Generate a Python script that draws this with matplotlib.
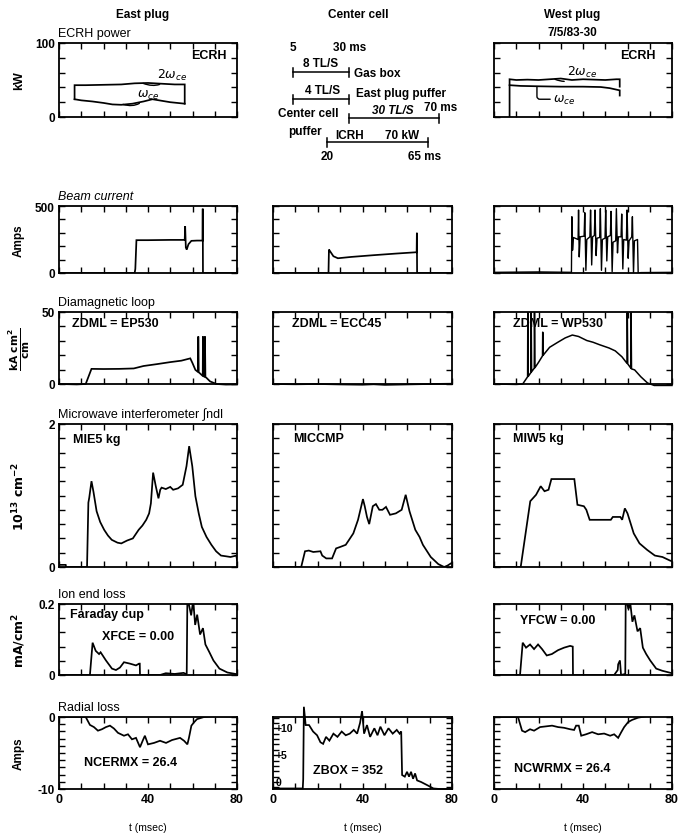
import numpy as np
import matplotlib
matplotlib.use('Agg')
import matplotlib.pyplot as plt

plt.rcParams['font.family'] = ['Liberation Sans', 'DejaVu Sans']
plt.rcParams['font.size'] = 8
plt.rcParams['axes.unicode_minus'] = False

W, H = 679, 837

# ---------------- data (t in ms) ----------------
# ECRH power, kW
ecrh_e_2w_t = [7, 7, 12, 20, 28, 34, 40, 46, 52, 56.5, 56.5]
ecrh_e_2w_v = [24, 43, 43, 43.5, 44, 45.5, 46, 45, 44, 44, 18]
ecrh_e_1w_t = [7, 10, 15, 20, 24, 28, 33, 38, 42, 46, 50, 56.5]
ecrh_e_1w_v = [24, 22.5, 21, 19, 17, 16.5, 18, 21, 24, 22, 20, 18]
ecrh_w_2w_t = [7, 7, 10, 15, 20, 25, 30, 35, 40, 45, 50, 55, 56.5, 56.5]
ecrh_w_2w_v = [0, 51, 50, 50.5, 50, 51, 52, 50, 51, 50.5, 50, 51, 51, 41]
ecrh_w_1w_t = [7, 12, 20, 30, 40, 48, 52, 55, 56.5, 56.5]
ecrh_w_1w_v = [43, 42, 41.5, 41, 41, 40.5, 39, 37, 36, 29]

# center cell timing
flow_start = [5, 5, 30, 20]
flow_end = [30, 30, 70, 65]

# beam current, A
beam_e_t = [0, 34, 34.3, 34.8, 40, 50, 56.5, 56.7, 57.0, 57.4, 58.2, 59.5, 62, 64.5, 64.6, 64.7, 66, 80]
beam_e_v = [0, 0, 30, 245, 245, 247, 247, 350, 190, 175, 215, 240, 242, 242, 480, 0, 0, 0]
beam_c_t = [0, 24.8, 25.0, 25.6, 27, 29, 35, 45, 55, 64.2, 64.3, 64.4, 66, 80]
beam_c_v = [0, 0, 175, 160, 125, 110, 120, 133, 145, 155, 300, 0, 0, 0]
beam_w_t = [0, 20, 34.8,
            35.0, 35.3, 35.7, 37.8,
            38.0, 38.3, 38.7, 40.5,
            40.8, 41.3, 41.7, 43.1,
            43.4, 43.9, 44.3, 45.1,
            45.4, 45.9, 46.3, 47.5,
            47.8, 48.3, 48.7, 49.9,
            50.2, 50.7, 51.1, 52.3,
            52.6, 53.1, 53.5, 54.7,
            55.0, 55.5, 55.9, 57.1,
            57.4, 57.9, 58.3, 59.5,
            59.8, 60.3, 60.7, 61.9,
            62.2, 62.7, 63.1, 64.5,
            64.8, 66, 80]
beam_w_v = [5, 8, 5,
            420, 170, 265, 250,
            470, 120, 270, 275,
            450, 20, 250, 270,
            470, 60, 270, 280,
            470, 130, 260, 265,
            480, 20, 250, 260,
            470, 90, 270, 280,
            460, 10, 230, 240,
            480, 150, 270, 270,
            440, 30, 250, 245,
            470, 110, 240, 270,
            420, 0, 240, 250,
            0, 3, 5]

# diamagnetic loop
dml_e_t = [0, 8, 12, 14.6, 20, 27, 33.6, 38, 44, 50, 55, 59, 60, 61.3, 62.5, 62.6, 62.8, 63.2, 64.6,
           64.7, 64.9, 65.5, 65.6, 65.8, 66.2, 67.9, 70.8, 75, 80]
dml_e_v = [0, -0.3, 0, 10.5, 10.4, 10.5, 10.8, 12.5, 13.8, 15.2, 16.2, 17.8, 14.5, 9.8, 8.3, 33, 8.1, 7.6, 5.6,
           33, 5.4, 5.0, 33, 4.8, 4.4, 1.8, 0, -0.4, -0.3]
dml_c_t = [0, 10, 20, 30, 40, 45, 50, 60, 70, 80]
dml_c_v = [0, -0.2, 0, -0.3, -0.5, -0.2, -0.6, -0.3, 0, 0.2]
dml_w_t = [0, 10, 12.9, 15.1, 15.2, 15.4, 16.6, 16.7, 16.9, 18.1, 18.2, 18.4, 20, 21.8, 21.9, 22.1,
           25, 28.7, 32, 35.2, 38, 41.7, 44.5, 47.4, 51.7, 54.5, 57.5, 59.8, 59.9, 60.1, 61.5, 61.6, 61.8,
           63.2, 66, 69, 72, 80]
dml_w_v = [0, -0.3, 0, 5, 49.5, 5.3, 8, 49.5, 8.5, 11, 49.5, 11.3, 15, 19.5, 36, 20,
           25.5, 29, 32, 34, 33, 30.2, 29, 27.3, 25, 23, 18.9, 14.3, 49.5, 14, 11, 49.5, 10.5,
           9.8, 5, 0.7, -1, -1]

# microwave interferometer, 1e13 cm^-2
mi_e_t = [0, 3, 3.2, 12.6, 13.2, 13.6, 14.6, 15.5, 16.9, 18.5, 20.3, 22, 23.7, 26.3, 28, 30.6, 33.2,
          35.8, 37.5, 39.2, 40.5, 41.3, 42.3, 43.5, 44.7, 45.5, 46.1, 48, 50, 51.3, 53.5, 55.6, 57.3,
          58.5, 59.9, 61.3, 62.8, 64.2, 66.3, 68.5, 70.6, 72.8, 75, 77.1, 79.7, 80]
mi_e_v = [0.03, 0.03, 0, 0, 0.9, 0.97, 1.2, 1.05, 0.78, 0.63, 0.52, 0.44, 0.38, 0.34, 0.33, 0.37, 0.40,
          0.52, 0.58, 0.66, 0.75, 0.89, 1.32, 1.13, 0.96, 1.08, 1.11, 1.09, 1.12, 1.08, 1.1, 1.15, 1.41,
          1.69, 1.41, 0.99, 0.75, 0.56, 0.42, 0.31, 0.22, 0.16, 0.15, 0.14, 0.16, 0.1]
mi_c_t = [0, 12.6, 14.3, 16, 18, 21.2, 22, 23.8, 26.4, 28.2, 30, 32.5, 34, 35.9, 38, 40.2, 41, 42, 43,
          44.6, 46, 47.5, 48.9, 50.5, 52.3, 54.9, 57.5, 59.3, 61, 63.6, 65.5, 67, 70.5, 73.9, 76.5, 78, 80]
mi_c_v = [0, 0, 0.22, 0.23, 0.21, 0.22, 0.16, 0.12, 0.12, 0.26, 0.28, 0.31, 0.38, 0.47, 0.66, 0.95, 0.85,
          0.7, 0.6, 0.85, 0.88, 0.8, 0.8, 0.84, 0.73, 0.75, 0.8, 1.01, 0.78, 0.52, 0.42, 0.31, 0.14, 0.04,
          0, 0.02, 0.06]
mi_w_t = [0, 12, 16.3, 18.9, 21, 22.7, 24.5, 25.8, 30, 36.1, 37.5, 40.4, 41.5, 43, 47, 52.5, 53.4, 56.8,
          57.6, 58.8, 60, 62.8, 65.4, 68.8, 72.3, 75.7, 79.1, 80]
mi_w_v = [0, 0, 0.92, 1.01, 1.13, 1.06, 1.08, 1.23, 1.23, 1.23, 0.87, 0.85, 0.8, 0.66, 0.66, 0.66, 0.7, 0.7,
          0.66, 0.82, 0.75, 0.47, 0.33, 0.24, 0.16, 0.14, 0.09, 0.08]

# Faraday cup, mA/cm^2
fc_e_t = [0, 13.9, 15.1, 16.5, 18, 18.7, 21.1, 23.8, 25.6, 27.4, 29.2, 31.9, 34.6, 36.0, 36.3, 36.4,
          45.4, 48, 52, 56, 57.4, 57.7, 58.5, 59.4, 60.3, 61.2, 62.1, 63.4, 64.7, 65.8, 67.6, 69.4,
          72.1, 75.7, 79.3, 80]
fc_e_v = [0, 0, 0.091, 0.068, 0.059, 0.064, 0.041, 0.018, 0.014, 0.021, 0.036, 0.032, 0.027, 0.032, 0.032, 0,
          0, 0.005, 0.003, 0.006, 0.002, 0.22, 0.195, 0.168, 0.21, 0.141, 0.17, 0.114, 0.132, 0.086, 0.064,
          0.041, 0.018, 0.007, 0.003, 0.002]
fc_w_t = [0, 11.7, 12.9, 14.4, 16.2, 18, 19.8, 21.6, 23.7, 26, 28.8, 31.5, 34.2, 35.4, 35.5, 54, 55.6,
          55.8, 56.6, 57.1, 59.0, 59.2, 60.4, 61.3, 62.2, 63.1, 64.5, 65.7, 66.9, 68.4, 70.2, 72.9, 75.6, 80]
fc_w_v = [0, 0, 0.091, 0.077, 0.086, 0.073, 0.086, 0.073, 0.055, 0.059, 0.07, 0.077, 0.082, 0.08, 0, 0, 0.014,
          0.03, 0.041, 0, 0.003, 0.22, 0.186, 0.2, 0.15, 0.168, 0.123, 0.132, 0.077, 0.059, 0.041, 0.018,
          0.012, 0.005]

# radial loss, A
rl_e_t = [0, 12, 13.9, 15.7, 17.5, 19.3, 21.1, 22.9, 24.7, 26.5, 29.2, 31, 32.8, 34.6, 36.4, 37.6, 38.6,
          40, 42.7, 45.4, 48.1, 50.8, 54.4, 56.2, 57.7, 58.4, 59.5, 60.8, 62, 65.2, 68.8, 80]
rl_e_v = [0, 0, -1.1, -1.4, -1.9, -1.7, -1.4, -1.2, -1.6, -2.2, -2.6, -2.4, -3.1, -2.9, -4.2, -3.3, -2.6,
          -3.8, -3.6, -3.3, -3.6, -3.2, -2.9, -3.3, -3.8, -2.9, -1.2, -0.7, -0.3, 0, 0.1, 0.05]
rl_c_t = [0, 13.3, 13.5, 13.8, 14.6, 16.1, 17.9, 19.7, 21.2, 22.4, 23.7, 25.2, 27, 28.8, 30.7, 32.5,
          34.3, 36.1, 37.6, 38.9, 39.8, 40.7, 42, 43.4, 45.3, 46.7, 48, 49.8, 51.6, 53.5, 55.3, 56.6,
          57.3, 57.7, 58.9, 59.9, 60.8, 61.7, 62.6, 63.5, 64.4, 66.2, 69, 71.7, 74.5, 80]
rl_c_v = [-1.2, -1.2, 0.5, 14, 10.6, 10.6, 9.4, 8.7, 7.4, 7.1, 8.4, 7.7, 9, 8.4, 9.4, 8.7,
          9, 9.7, 9, 11, 13.2, 9, 10.6, 8.4, 10, 8.7, 10.3, 8.7, 10, 9, 9.7, 9,
          9.4, 1.3, 1, 1.9, 1, 1.9, 0.6, 1.6, 0.3, 0, -0.6, -1.2, -1.3, -1.3]
rl_w_t = [0, 10.8, 12.6, 14, 16.2, 18, 20.7, 23.4, 26.1, 28.8, 31.5, 34.2, 36, 36.9, 38.1, 39.2, 41.4,
          44.1, 46.8, 49.5, 52.2, 54, 55.8, 57.2, 58.5, 60.3, 62.1, 64.7, 68.3, 80]
rl_w_v = [0, 0, -1.9, -2.1, -1.7, -1.9, -1.4, -1.3, -1.2, -1.4, -1.5, -1.7, -1.8, -1.2, -1.2, -2.6, -2.4,
          -2.1, -2.4, -2.3, -2.6, -2.4, -2.9, -2.1, -1.4, -0.7, -0.4, -0.1, 0.1, 0.2]

# ---------------- layout (pixels) ----------------
col_px = [(59, 237), (273, 452), (494, 672)]
row_px = [(44, 118), (207, 274), (313, 385), (425, 568), (605, 676), (718, 790)]
row_ylim = [(0, 100), (0, 500), (0, 50), (0, 2), (0, 0.2), (-10, 0)]
row_yticks = [np.arange(0, 101, 20), np.arange(0, 501, 100), np.arange(0, 51, 10),
              np.arange(0, 2.01, 0.2), np.arange(0, 0.201, 0.04), np.arange(-10, 0.1, 1)]
row_ylabels = [('0', '100'), ('0', '500'), ('0', '50'), ('0', '2'), ('0', '0.2'), ('-10', '0')]

LW = 1.25
fig = plt.figure(figsize=(W / 100, H / 100), dpi=100)


def ftext(x, y, s, **kw):
    fig.text(x / W, 1 - y / H, s, **kw)


def panel(col, row):
    x0, x1 = col_px[col]
    y0, y1 = row_px[row]
    ax = fig.add_axes([x0 / W, 1 - y1 / H, (x1 - x0) / W, (y1 - y0) / H])
    ax.set_xlim(0, 80)
    ax.set_ylim(*row_ylim[row])
    ax.set_xticks(range(0, 81, 10))
    if row == 5:
        ax.set_xticklabels(['0', '', '', '', '40', '', '', '', '80'], fontweight='bold', fontsize=9)
    else:
        ax.set_xticklabels([''] * 9)
    ticks = row_yticks[row]
    ax.set_yticks(ticks)
    if col == 0:
        lab = [''] * len(ticks)
        lab[0], lab[-1] = row_ylabels[row]
        ax.set_yticklabels(lab, fontweight='bold', fontsize=8.5)
    else:
        ax.set_yticklabels([''] * len(ticks))
    ax.tick_params(direction='in', length=4, width=1, top=True, right=True, pad=3)
    for sp in ax.spines.values():
        sp.set_linewidth(1.3)
    return ax


def trace(ax, t, v, clip=True):
    ax.plot(t, v, color='black', lw=LW, clip_on=clip, solid_joinstyle='miter')


# column titles
ftext(143, 15, 'East plug', ha='center', va='center', fontweight='bold', fontsize=8.5)
ftext(358, 15, 'Center cell', ha='center', va='center', fontweight='bold', fontsize=8.5)
ftext(572, 15, 'West plug', ha='center', va='center', fontweight='bold', fontsize=8.5)
ftext(572, 33, '7/5/83-30', ha='center', va='center', fontweight='bold', fontsize=8.5)

# row labels
row_names = ['ECRH power', 'Beam current', 'Diamagnetic loop',
             'Microwave interferometer \u222bndl', 'Ion end loss', 'Radial loss']
for r, name in enumerate(row_names):
    style = 'italic' if r == 1 else 'normal'
    ftext(58, row_px[r][0] - 4, name, ha='left', va='bottom', fontsize=9, style=style)

# y axis units
units = ['kW', 'Amps', r'$\frac{\mathbf{kA\ cm^2}}{\mathbf{cm}}$', r'$\mathbf{10^{13}\ cm^{-2}}$',
         r'$\mathbf{mA/cm^2}$', 'Amps']
unit_size = [9, 8.5, 11, 9, 9, 8.5]
for r, u in enumerate(units):
    yc = (row_px[r][0] + row_px[r][1]) / 2
    ftext(19, yc, u, ha='center', va='center', rotation=90, fontweight='bold', fontsize=unit_size[r])

# x labels
for c in range(3):
    xc = (col_px[c][0] + col_px[c][1]) / 2
    ftext(xc, 828, 't (msec)', ha='center', va='center', fontsize=7.5)

bold = dict(fontweight='bold', fontsize=9)

# ---- row 1: ECRH ----
ax = panel(0, 0)
trace(ax, ecrh_e_2w_t, ecrh_e_2w_v)
trace(ax, ecrh_e_1w_t, ecrh_e_1w_v)
ax.text(75.5, 84, 'ECRH', ha='right', va='center', **bold)
ax.annotate(r'$2\omega_{ce}$', xy=(37.8, 45.5), xytext=(44, 58), va='center', fontsize=9,
            arrowprops=dict(arrowstyle='-', lw=1, connectionstyle='arc3,rad=-0.4', shrinkA=0, shrinkB=0))
ax.annotate(r'$\omega_{ce}$', xy=(28.8, 17), xytext=(35, 31), va='center', fontsize=9,
            arrowprops=dict(arrowstyle='-', lw=1, connectionstyle='arc3,rad=-0.4', shrinkA=0, shrinkB=0))

ax = panel(2, 0)
trace(ax, ecrh_w_2w_t, ecrh_w_2w_v)
trace(ax, ecrh_w_1w_t, ecrh_w_1w_v)
ax.text(72.5, 84, 'ECRH', ha='right', va='center', **bold)
ax.annotate(r'$2\omega_{ce}$', xy=(27.4, 51), xytext=(32.8, 62), va='center', fontsize=9,
            arrowprops=dict(arrowstyle='-', lw=1, connectionstyle='arc3,rad=-0.4', shrinkA=0, shrinkB=0))
ax.annotate(r'$\omega_{ce}$', xy=(19.3, 41), xytext=(26.5, 24), va='center', fontsize=9,
            arrowprops=dict(arrowstyle='-', lw=1, connectionstyle='angle,angleA=0,angleB=90,rad=3',
                            shrinkA=0, shrinkB=0))

# center cell timing diagram
d = fig.add_axes([250 / W, 1 - 168 / H, 220 / W, 130 / H])
d.set_xlim((250 - 282) / 2.24, (470 - 282) / 2.24)
d.set_ylim(168, 38)
d.axis('off')
bar_y = [73, 100, 119, 143]
for s, e, y in zip(flow_start, flow_end, bar_y):
    d.plot([s, e], [y, y], color='black', lw=1.1)
    d.plot([s, s], [y - 4, y + 5], color='black', lw=1.1)
    d.plot([e, e], [y - 4, y + 5], color='black', lw=1.1)
dk = dict(fontweight='bold', fontsize=8.5, va='center')
d.text(flow_start[0], 48, '5', ha='center', **dk)
d.text(22.8, 48, '30 ms', ha='left', **dk)
d.text(17, 64, '8 TL/S', ha='center', **dk)
d.text(32.1, 74, 'Gas box', ha='left', **dk)
d.text(17.9, 91, '4 TL/S', ha='center', **dk)
d.text(33, 94, 'East plug puffer', ha='left', **dk)
d.text(25.4, 114, 'Center cell', ha='right', **dk)
d.text(10.3, 132, 'puffer', ha='center', **dk)
d.text(49.6, 111, '30 TL/S', ha='center', style='italic', **dk)
d.text(63.4, 108, '70 ms', ha='left', **dk)
d.text(30, 136, 'ICRH', ha='center', **dk)
d.text(53.6, 136, '70 kW', ha='center', **dk)
d.text(flow_start[3], 157, '20', ha='center', **dk)
d.text(56.3, 157, '65 ms', ha='left', **dk)

# ---- row 2: beam current ----
ax = panel(0, 1)
trace(ax, beam_e_t, beam_e_v)
ax = panel(1, 1)
trace(ax, beam_c_t, beam_c_v)
ax = panel(2, 1)
ax.plot(beam_w_t, beam_w_v, color='black', lw=1.0)

# ---- row 3: diamagnetic loop ----
ax = panel(0, 2)
trace(ax, dml_e_t, dml_e_v, clip=False)
ax.text(6, 42.5, 'ZDML = EP530', ha='left', va='center', **bold)
ax = panel(1, 2)
trace(ax, dml_c_t, dml_c_v, clip=False)
ax.text(8.6, 42.5, 'ZDML = ECC45', ha='left', va='center', **bold)
ax = panel(2, 2)
ax.plot(dml_w_t, dml_w_v, color='black', lw=1.1, clip_on=False)
ax.text(8.6, 42.5, 'ZDML = WP530', ha='left', va='center', **bold)

# ---- row 4: microwave interferometer ----
ax = panel(0, 3)
trace(ax, mi_e_t, mi_e_v)
ax.text(6.5, 1.79, 'MIE5 kg', ha='left', va='center', **bold)
ax = panel(1, 3)
trace(ax, mi_c_t, mi_c_v)
ax.text(9.2, 1.81, 'MICCMP', ha='left', va='center', **bold)
ax = panel(2, 3)
trace(ax, mi_w_t, mi_w_v)
ax.text(8.6, 1.81, 'MIW5 kg', ha='left', va='center', **bold)

# ---- row 5: ion end loss ----
ax = panel(0, 4)
trace(ax, fc_e_t, fc_e_v)
ax.text(4.9, 0.171, 'Faraday cup', ha='left', va='center', **bold)
ax.text(19.3, 0.109, 'XFCE = 0.00', ha='left', va='center', **bold)
ax = panel(2, 4)
trace(ax, fc_w_t, fc_w_v)
ax.text(11.7, 0.155, 'YFCW = 0.00', ha='left', va='center', **bold)

# ---- row 6: radial loss ----
ax = panel(0, 5)
trace(ax, rl_e_t, rl_e_v)
ax.text(11.2, -6.2, 'NCERMX = 26.4', ha='left', va='center', **bold)

ax = panel(1, 5)
ax.set_ylim(-1.3, 12.1)
ax.set_yticks(range(-1, 13))
ax.set_yticklabels([''] * 14)
trace(ax, rl_c_t, rl_c_v, clip=False)
for val, lab in [(10, '+10'), (5, '+5'), (0, '0')]:
    ax.text(1.2, val, lab, ha='left', va='center', fontweight='bold', fontsize=7.5)
ax.text(17.9, 2.3, 'ZBOX = 352', ha='left', va='center', **bold)

ax = panel(2, 5)
trace(ax, rl_w_t, rl_w_v)
ax.text(9, -7.1, 'NCWRMX = 26.4', ha='left', va='center', **bold)

fig.savefig('out.png', dpi=100)
